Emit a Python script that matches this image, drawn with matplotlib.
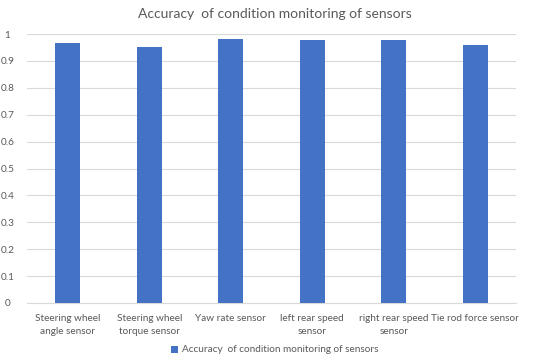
import matplotlib
matplotlib.use("Agg")
import matplotlib.pyplot as plt
import numpy as np

plt.rcParams['font.family'] = ['Lato', 'DejaVu Sans']

categories = ["Steering wheel\nangle sensor", "Steering wheel\ntorque sensor", "Yaw rate sensor",
              "left rear speed\nsensor", "right rear speed\nsensor", "Tie rod force sensor"]
accuracy = [0.965, 0.952, 0.980, 0.979, 0.979, 0.959]
series_name = "Accuracy  of condition monitoring of sensors"
yticks = [0, 0.1, 0.2, 0.3, 0.4, 0.5, 0.6, 0.7, 0.8, 0.9, 1]
ytick_labels = ["0", "0.1", "0.2", "0.3", "0.4", "0.5", "0.6", "0.7", "0.8", "0.9", "1"]

text_col = "#595959"
fig = plt.figure(figsize=(5.5, 3.61), dpi=100)
ax = fig.add_axes([27 / 550, 1 - 303 / 361, (516 - 27) / 550, (303 - 34) / 361])

x = np.arange(len(categories))
ax.bar(x, accuracy, width=0.31, color="#4472C4", label=series_name, zorder=3)
ax.set_xlim(-0.5, len(categories) - 0.5)
ax.set_ylim(0, 1)
ax.set_yticks(yticks)
ax.set_yticklabels(ytick_labels)
ax.set_xticks(x)
ax.set_xticklabels(categories, linespacing=1.5)
ax.grid(axis="y", color="#d9d9d9", linewidth=0.8, zorder=0)
for s in ["top", "right", "left"]:
    ax.spines[s].set_visible(False)
ax.spines["bottom"].set_color("#d9d9d9")
ax.tick_params(axis="both", length=0, colors=text_col, labelsize=7.2)
ax.tick_params(axis="y", pad=14)
ax.tick_params(axis="x", pad=8)
for lab in ax.get_yticklabels():
    lab.set_horizontalalignment("center")

fig.text(0.5, 1 - 14 / 361, "Accuracy  of condition monitoring of sensors", ha="center", va="center",
         fontsize=10, color=text_col)
fig.legend(loc="center", bbox_to_anchor=(0.5, 1 - 350 / 361), frameon=False, fontsize=7.2,
           labelcolor=text_col, handlelength=0.7, handleheight=0.7, handletextpad=0.4)

fig.savefig("out.png", dpi=100)
